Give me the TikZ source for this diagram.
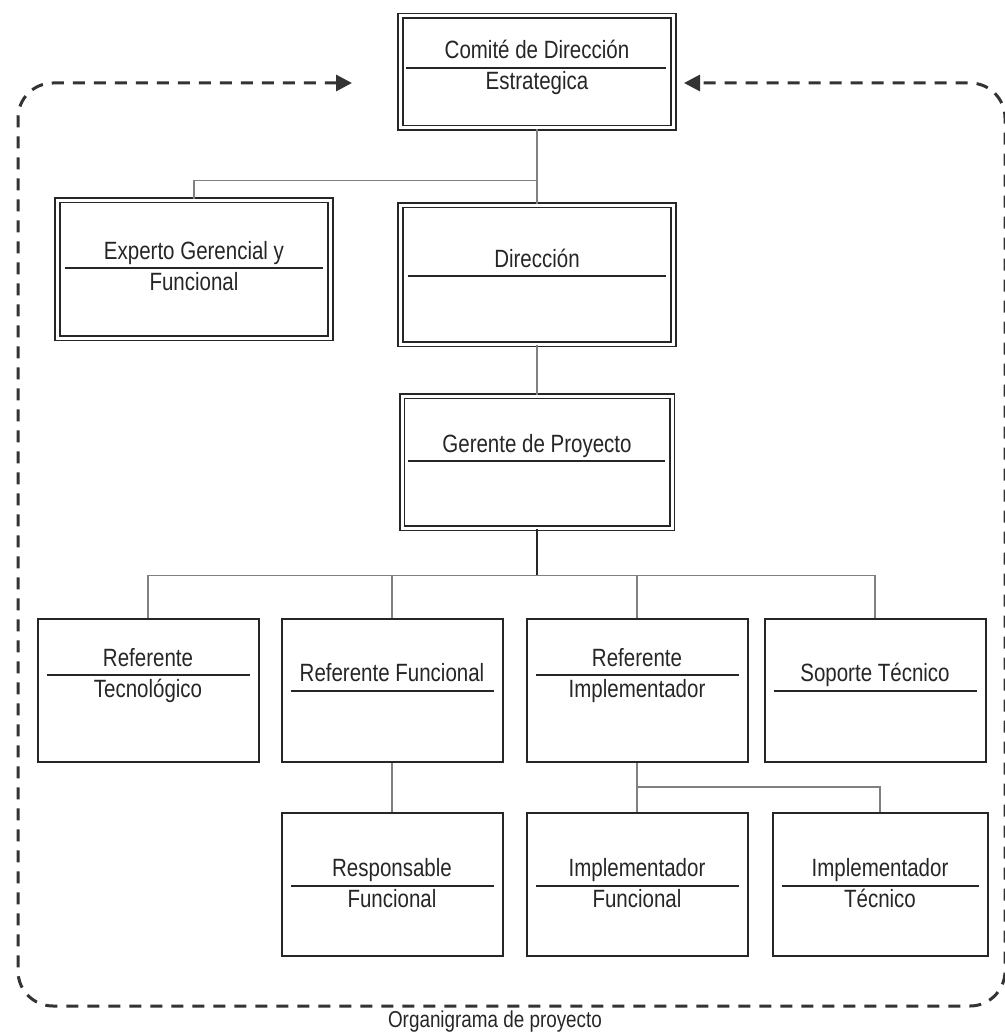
\documentclass[tikz,border=0pt]{standalone}
\usepackage{fontspec}
\setmainfont{Liberation Sans}[FakeStretch=0.82]
\usetikzlibrary{arrows.meta}

\begin{document}
\begin{tikzpicture}[x=1pt,y=-1pt,
 dbox/.style={draw=black!85,double=white,double distance=3pt,line width=1.6pt,minimum width=273pt,minimum height=#1,inner sep=0pt},
 sbox/.style={draw=black!85,line width=2pt,minimum width=221pt,minimum height=143pt,inner sep=0pt},
 divider/.style={draw=black!85,line width=2pt},
 conn/.style={draw=black!50,line width=1.2pt},
 txt/.style={anchor=base,inner sep=0pt,text=black!85,font=\fontsize{25}{28}\selectfont},
 framedash/.style={draw=black!80,line width=3pt,dash pattern=on 12pt off 9pt,rounded corners=35pt}]
\useasboundingbox (0,0) rectangle (1004,1035);

% boxes
\node[dbox=112pt] (comite) at (537,72) {};
\node[dbox=138pt] (experto) at (194,269) {};
\node[dbox=139pt] (direccion) at (537,274.5) {};
\node[dbox=132pt,minimum width=270pt] (gerente) at (537,462) {};
\node[sbox] (reftec) at (148,690.5) {};
\node[sbox] (reffun) at (392,690.5) {};
\node[sbox] (refimp) at (637,690.5) {};
\node[sbox] (soporte) at (875,690.5) {};
\node[sbox] (respfun) at (392,884.5) {};
\node[sbox] (implfun) at (637,884.5) {};
\node[sbox,minimum width=215pt] (impltec) at (880,884.5) {};

% dividers
\draw[divider] ([shift={(6,-4)}]comite.west) -- ([shift={(-8,-4)}]comite.east);
\draw[divider] ([shift={(8,-1)}]experto.west) -- ([shift={(-8,-1)}]experto.east);
\draw[divider] ([shift={(8,1.5)}]direccion.west) -- ([shift={(-8,1.5)}]direccion.east);
\draw[divider] ([shift={(7,-1)}]gerente.west) -- ([shift={(-8,-1)}]gerente.east);
\draw[divider] ([shift={(10,-15.5)}]reftec.west) -- ([shift={(-10,-15.5)}]reftec.east);
\draw[divider] ([shift={(10,0)}]reffun.west) -- ([shift={(-10,0)}]reffun.east);
\draw[divider] ([shift={(10,-15.5)}]refimp.west) -- ([shift={(-10,-15.5)}]refimp.east);
\draw[divider] ([shift={(10,0)}]soporte.west) -- ([shift={(-10,0)}]soporte.east);
\draw[divider] ([shift={(10,1)}]respfun.west) -- ([shift={(-10,1)}]respfun.east);
\draw[divider] ([shift={(10,1)}]implfun.west) -- ([shift={(-10,1)}]implfun.east);
\draw[divider] ([shift={(10,1)}]impltec.west) -- ([shift={(-10,1)}]impltec.east);

% texts
\node[txt] (comiteA) at ([shift={(0,-13)}]comite.center) {Comité de Dirección};
\node[txt] (comiteB) at ([shift={(0,18)}]comite.center) {Estrategica};
\node[txt] (expertoA) at ([shift={(0,-10)}]experto.center) {Experto Gerencial y};
\node[txt] (expertoB) at ([shift={(0,21)}]experto.center) {Funcional};
\node[txt] (direccionA) at ([shift={(0,-7.5)}]direccion.center) {Dirección};
\node[txt] (gerenteA) at ([shift={(0,-10)}]gerente.center) {Gerente de Proyecto};
\node[txt] (reftecA) at ([shift={(0,-24.5)}]reftec.center) {Referente};
\node[txt] (reftecB) at ([shift={(0,6.5)}]reftec.center) {Tecnológico};
\node[txt] (reffunA) at ([shift={(0,-9)}]reffun.center) {Referente Funcional};
\node[txt] (refimpA) at ([shift={(0,-24.5)}]refimp.center) {Referente};
\node[txt] (refimpB) at ([shift={(0,6.5)}]refimp.center) {Implementador};
\node[txt] (soporteA) at ([shift={(0,-9)}]soporte.center) {Soporte Técnico};
\node[txt] (respfunA) at ([shift={(0,-8)}]respfun.center) {Responsable};
\node[txt] (respfunB) at ([shift={(0,23)}]respfun.center) {Funcional};
\node[txt] (implfunA) at ([shift={(0,-8)}]implfun.center) {Implementador};
\node[txt] (implfunB) at ([shift={(0,23)}]implfun.center) {Funcional};
\node[txt] (impltecA) at ([shift={(0,-8)}]impltec.center) {Implementador};
\node[txt] (impltecB) at ([shift={(0,23)}]impltec.center) {Técnico};

% connectors
\draw[conn] (comite.south) -- (direccion.north);
\draw[conn] (comite.south) ++(0,52) -| (experto.north);
\draw[conn] (direccion.south) -- (gerente.north);
\draw[conn,draw=black!85,line width=2pt] (gerente.south) -- ++(0,47) coordinate (busB);
\draw[conn] (busB) -| (reftec.north);
\draw[conn] (busB) -| (reffun.north);
\draw[conn] (busB) -| (refimp.north);
\draw[conn] (busB) -| (soporte.north);
\draw[conn] (reffun.south) -- (respfun.north);
\draw[conn] (refimp.south) -- (implfun.north);
\draw[conn] (refimp.south) ++(0,24) -| (impltec.north);

% dashed frame
\coordinate (loopL) at (352,83);
\coordinate (loopR) at (684,83);
\draw[framedash,{Triangle[length=16pt,width=16pt]}-{Triangle[length=16pt,width=16pt]}] (loopL) -- (18,83) -- (18,1006) -- (1005,1006) -- (1005,83) -- (loopR);

\node[txt,font=\fontsize{23}{26}\selectfont] (caption) at (495,1027) {Organigrama de proyecto};
\end{tikzpicture}
\end{document}
